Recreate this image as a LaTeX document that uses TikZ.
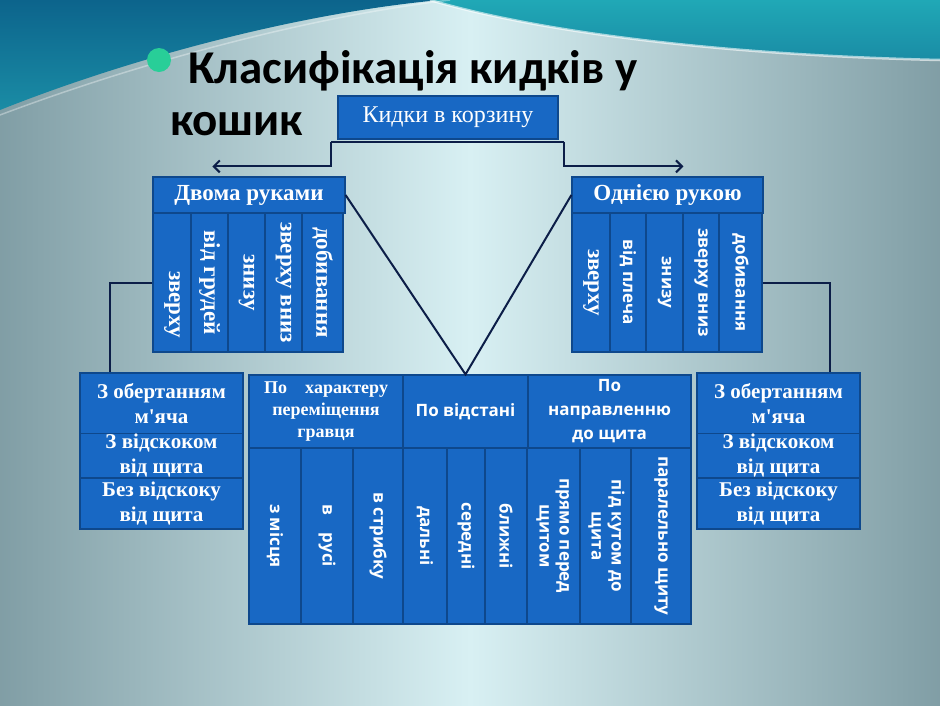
\documentclass[tikz,border=0pt]{standalone}
\usepackage{fontspec}
\setmainfont{Liberation Serif}
\newfontfamily\titlefont{Carlito}
\newfontfamily\sansfont{Open Sans}
\usetikzlibrary{arrows.meta, positioning}
\definecolor{boxBlue}{RGB}{24,104,196}
\definecolor{boxEdge}{RGB}{14,72,140}
\definecolor{lineNavy}{RGB}{12,30,72}
\definecolor{bulletGreen}{RGB}{40,206,152}
\definecolor{bgSide}{RGB}{118,148,156}
\definecolor{bgMid}{RGB}{216,240,243}
\definecolor{tealTop}{RGB}{12,100,140}
\definecolor{tealDark}{RGB}{26,140,165}
\definecolor{tealLight}{RGB}{32,168,182}
\pgfdeclarehorizontalshading{bgglow}{100bp}{color(0bp)=(bgSide); color(22bp)=(bgSide); color(50bp)=(bgMid); color(78bp)=(bgSide); color(100bp)=(bgSide)}

\begin{document}
\begin{tikzpicture}[x=1pt, y=-1pt,
    box/.style={draw=boxEdge, fill=boxBlue, line width=1.2pt, inner sep=1pt, text=white},
    hdbox/.style={box, align=center, font=\fontsize{23}{26}\selectfont\bfseries},
    serifcol/.style={box, minimum height=139pt, font=\fontsize{23}{26}\selectfont\bfseries},
    sanscol/.style={box, minimum height=139pt, font=\sansfont\fontsize{17}{20}\selectfont\bfseries},
    sidebox/.style={box, align=center, minimum width=163pt, font=\fontsize{21}{25}\selectfont\bfseries},
    groupbox/.style={box, align=center, minimum height=73pt},
    bcol/.style={box, minimum height=176pt, font=\sansfont\fontsize{17}{20}\selectfont\bfseries},
    conn/.style={draw=lineNavy, line width=2pt},
    arrow/.style={conn, -{Straight Barb[length=6pt, width=12pt]}}
]
    % background
    \useasboundingbox (0,0) rectangle (940,705);
    \shade[shading=bgglow] (0,0) rectangle (940,705);
    \shade[top color=tealTop, bottom color=tealDark] (0,0) -- (0,110) .. controls (120,62) and (290,14) .. (440,0) -- cycle;
    \shade[top color=tealLight, bottom color=tealDark] (430,0) .. controls (560,38) and (760,56) .. (940,60) -- (940,0) -- cycle;
    \draw[white, opacity=.6, line width=2.5pt] (430,0) .. controls (560,38) and (760,56) .. (940,60);
    \draw[white, opacity=.35, line width=1.5pt] (0,115) .. controls (130,66) and (300,18) .. (450,0);

    % title
    \fill[bulletGreen] (159,60) circle[radius=12pt];
    \node[anchor=north west, inner sep=0pt, align=left, font=\titlefont\bfseries\fontsize{47}{52}\selectfont] (title) at (170,50) {\hspace*{18pt}Класифікація кидків у\\кошик};

    % top
    \node[box, minimum width=220pt, minimum height=43pt, font=\fontsize{24}{26}\selectfont] (kidky) at (448,117.5) {Кидки в корзину};

    % two hands
    \node[hdbox, minimum width=192pt, minimum height=36pt] (dvoma) at (249,195) {Двома руками};
    \node[serifcol, minimum width=38pt] (l1) at (172,282.5) {\rotatebox{-90}{\hspace*{44pt}зверху}};
    \node[serifcol, minimum width=37pt] (l2) at (209.5,282.5) {\rotatebox{-90}{від грудей}};
    \node[serifcol, minimum width=37pt] (l3) at (246.5,282.5) {\rotatebox{-90}{знизу}};
    \node[serifcol, minimum width=37pt] (l4) at (283.5,282.5) {\rotatebox{-90}{зверху вниз}};
    \node[serifcol, minimum width=41pt] (l5) at (322.5,282.5) {\rotatebox{-90}{добивання}};

    % one hand
    \node[hdbox, minimum width=191pt, minimum height=36pt] (odna) at (667.5,195) {Однією рукою};
    \node[serifcol, minimum width=38pt] (r1) at (591,282.5) {\rotatebox{-90}{зверху}};
    \node[sanscol, minimum width=36pt] (r2) at (628,282.5) {\rotatebox{-90}{від плеча}};
    \node[sanscol, minimum width=37pt] (r3) at (664.5,282.5) {\rotatebox{-90}{знизу}};
    \node[sanscol, minimum width=36pt] (r4) at (701,282.5) {\rotatebox{-90}{зверху вниз}};
    \node[sanscol, minimum width=43pt] (r5) at (740.5,282.5) {\rotatebox{-90}{добивання}};

    % side boxes
    \node[sidebox, minimum height=61pt] (lobert) at (161.5,403.5) {З обертанням\\м\textquotesingle яча};
    \node[sidebox, minimum height=44pt] (lvidsk) at (161.5,456) {З відскоком\\від щита};
    \node[sidebox, minimum height=51pt] (lbez) at (161.5,503.5) {Без відскоку\\від щита};
    \node[sidebox, minimum height=61pt] (robert) at (778.5,403.5) {З обертанням\\м\textquotesingle яча};
    \node[sidebox, minimum height=44pt] (rvidsk) at (778.5,456) {З відскоком\\від щита};
    \node[sidebox, minimum height=51pt] (rbez) at (778.5,503.5) {Без відскоку\\від щита};

    % bottom group
    \node[groupbox, minimum width=154pt, font=\fontsize{18}{22}\selectfont\bfseries] (harakt) at (326,411.5) {\makebox[124pt][s]{По характеру}\\переміщення\\гравця};
    \node[groupbox, minimum width=125pt, font=\sansfont\fontsize{17}{24}\selectfont\bfseries] (dist) at (465.5,411.5) {По відстані};
    \node[groupbox, minimum width=163pt, font=\sansfont\fontsize{17}{24}\selectfont\bfseries] (napr) at (609.5,411.5) {По\\направленню\\до щита};

    \node[bcol, minimum width=52pt] (b1) at (275,536) {\rotatebox{-90}{з місця}};
    \node[bcol, minimum width=52pt] (b2) at (327,536) {\rotatebox{-90}{в\quad русі}};
    \node[bcol, minimum width=50pt] (b3) at (378,536) {\rotatebox{-90}{в стрибку}};
    \node[bcol, minimum width=44pt] (b4) at (425,536) {\rotatebox{-90}{дальні}};
    \node[bcol, minimum width=38pt] (b5) at (466,536) {\rotatebox{-90}{середні}};
    \node[bcol, minimum width=42pt] (b6) at (506,536) {\rotatebox{-90}{ближні}};
    \node[bcol, minimum width=53pt] (b7) at (553.5,536) {\rotatebox{-90}{\begin{tabular}{@{}c@{}}прямо перед\\щитом\end{tabular}}};
    \node[bcol, minimum width=51pt] (b8) at (605.5,536) {\rotatebox{-90}{\begin{tabular}{@{}c@{}}під кутом до\\щита\end{tabular}}};
    \node[bcol, minimum width=60pt] (b9) at (661,536) {\rotatebox{-90}{паралельно щиту}};

    % connectors
    \draw[conn] ([xshift=-6pt, yshift=-2pt]kidky.south west) -- ([xshift=5pt, yshift=-2pt]kidky.south east);
    \draw[arrow] ([xshift=-6pt, yshift=-2pt]kidky.south west) |- ([xshift=60pt, yshift=10pt]dvoma.north west);
    \draw[arrow] ([xshift=5pt, yshift=-2pt]kidky.south east) |- ([xshift=112pt, yshift=10pt]odna.north west);
    \draw[conn] (dvoma.east) -- (dist.north) -- (odna.west);
    \draw[conn] (l1.west) -| ([xshift=-51.5pt]lobert.north);
    \draw[conn] (r5.east) -| ([xshift=51.5pt]robert.north);
\end{tikzpicture}
\end{document}
